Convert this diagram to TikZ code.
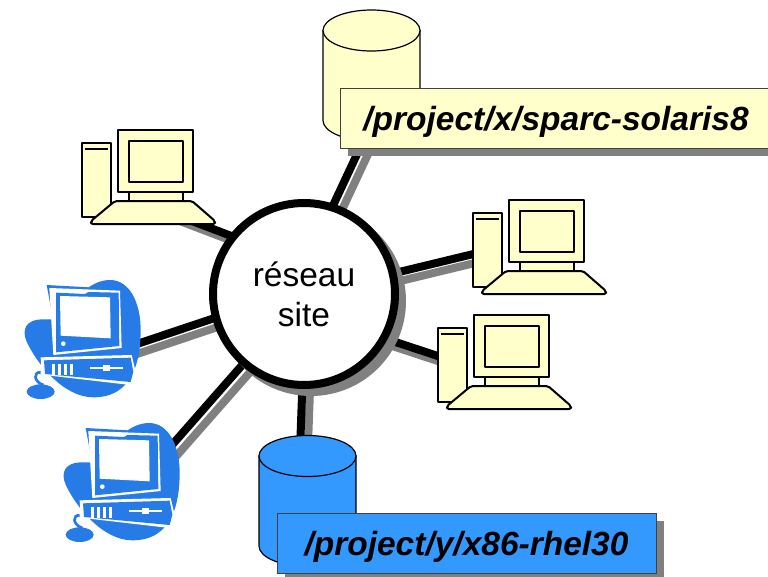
\documentclass[tikz,border=0pt]{standalone}
\usepackage{fontspec}
\setmainfont{Liberation Sans}
\usetikzlibrary{shadows,backgrounds}
\definecolor{paleyellow}{HTML}{FFFFCC}
\definecolor{diskblue}{HTML}{3399FF}
\definecolor{clipblue}{HTML}{277BE6}
\definecolor{shadowgray}{HTML}{808080}
\tikzset{
    sitenode/.style={circle, draw, fill=white, line width=8pt, minimum size=182pt, inner sep=0pt, outer sep=0pt,
        align=center, font=\fontsize{33.5}{40}\selectfont,
        drop shadow={shadow xshift=7pt, shadow yshift=-7pt, fill=shadowgray, draw=shadowgray, opacity=1}},
    pathnode/.style={rectangle, draw=black!75, line width=1pt, minimum height=60pt, inner sep=0pt, outer sep=0pt,
        text height=30pt, text depth=6pt, font=\fontsize{33.5}{40}\selectfont\bfseries\itshape,
        drop shadow={shadow xshift=8pt, shadow yshift=-8pt, fill=shadowgray, opacity=1}},
    link/.style={line width=8pt},
    diskpic/.pic={
        \filldraw[pic actions, line width=1.2pt] (-48.5,0) -- (-48.5,90)
            .. controls (-48.5,101.3) and (-26.7,110.5) .. (0,110.5)
            .. controls (26.7,110.5) and (48.5,101.3) .. (48.5,90) -- (48.5,0) -- cycle;
        \filldraw[pic actions, line width=1.2pt] (0,0) ellipse (48.5 and 20.5);
    },
    yellowpc/.pic={
        \begin{scope}[draw=black, fill=paleyellow, line width=2pt, line join=round]
            \filldraw (-36,13) rectangle (-7,87);
            \draw[line width=1.2pt] (-33,19) -- (-10,19);
            \filldraw (11,62) rectangle (65,71);
            \filldraw[rounded corners=2pt] (-3,71) -- (74,71) -- (97,91) -- (97,94) -- (-27,94) -- (-27,91) -- cycle;
            \filldraw (0,0) rectangle (75,62);
            \filldraw (11,11) rectangle (65,52);
        \end{scope}
    },
    bluepc/.pic={
        \begin{scope}[scale=1/3]
            \fill[clipblue] (195,60) .. controls (220,40) and (245,30) .. (270,30)
                .. controls (330,30) and (362,100) .. (362,180)
                .. controls (362,270) and (340,382) .. (220,382)
                .. controls (130,382) and (50,280) .. (20,215)
                .. controls (5,180) and (15,148) .. (70,148)
                -- (110,148) -- (120,100) -- cycle;
            \fill[clipblue] (80,45) -- (207,52) -- (190,75) -- (100,152) -- cycle;
            \fill[white] (88,54) -- (300,62) -- (305,234) -- (100,255) -- cycle;
            \fill[clipblue] (108,68) -- (195,72) -- (205,66) -- (296,68) -- (298,228) -- (108,247) -- cycle;
            \fill[white] (120,78) -- (270,82) -- (272,205) -- (122,197) -- cycle;
            \fill[white] (130,221) circle (7);
            \fill[white] (62,262) -- (335,255) -- (347,305) -- (340,346) -- (65,314) -- cycle;
            \fill[clipblue] (72,271) -- (332,263) -- (340,305) -- (332,336) -- (75,312) -- cycle;
            \foreach \xi in {100, 118, 136, 154}
                {
                    \fill[white] (\xi-3.5,282) rectangle (\xi+3.5,315);
                }
            \fill[white] (210,292) rectangle (310,298);
            \fill[white] (250,285) rectangle (270,304);
            \draw[clipblue, line width=2.7pt] (62,307) .. controls (40,305) and (40,335) .. (70,345);
            \fill[clipblue] (62,365) ellipse (42 and 22);
        \end{scope}
    }
}
\begin{document}
\begin{tikzpicture}[x=1pt, y=-1pt]
    \useasboundingbox (0,0) rectangle (768,576);
    \node[sitenode] (site) at (304,294) {réseau\\site};
    % free ends of the links, hidden under the machines
    \coordinate (diskx) at (373,120);
    \coordinate (pca) at (150,205);
    \coordinate (pcb) at (490,250);
    \coordinate (pcc) at (450,360);
    \coordinate (clipa) at (110,353);
    \coordinate (clipb) at (150,470);
    \coordinate (disky) at (300,450);
    \begin{scope}[on background layer]
        \foreach \a/\d in {72/diskx, 141/pca, 13/pcb, 331/pcc, 195/clipa, 229/clipb, 269/disky}
            {
                \draw[link, shadowgray] ([shift={(7.5,7.5)}]site.\a) -- ([shift={(7.5,7.5)}]\d);
                \draw[link] (site.\a) -- (\d);
            }
    \end{scope}
    \pic (pcone) at (118,130) {yellowpc};
    \pic (pctwo) at (509,200) {yellowpc};
    \pic (pcthree) at (474,315) {yellowpc};
    \pic (clipone) at (20,270) {bluepc};
    \pic (cliptwo) at (59,413) {bluepc};
    \pic[fill=paleyellow] (xdisk) at (371.5,30.5) {diskpic};
    \pic[fill=diskblue] (ydisk) at (307.5,456) {diskpic};
    \node[pathnode, fill=paleyellow, minimum width=432pt] (xpath) at (556,118) {/project/x/sparc-solaris8};
    \node[pathnode, fill=diskblue, minimum width=379pt] (ypath) at (466.5,543) {/project/y/x86-rhel30};
\end{tikzpicture}
\end{document}
